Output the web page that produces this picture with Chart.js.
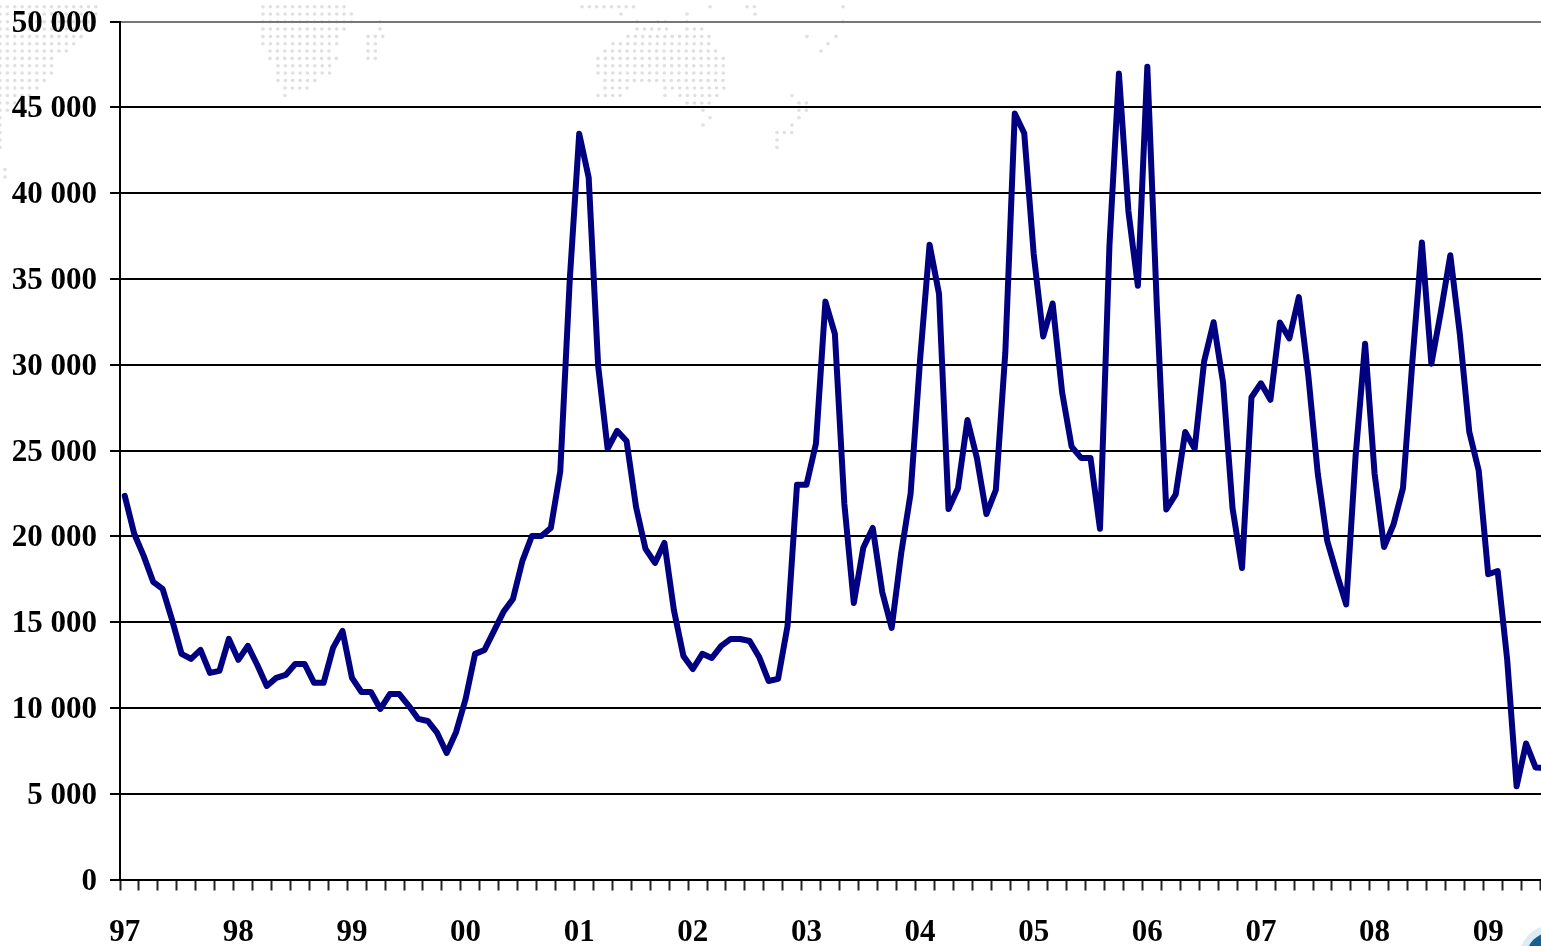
<!DOCTYPE html>
<html>
<head>
<meta charset="utf-8">
<title>Chart</title>
<script src="https://cdn.jsdelivr.net/npm/chart.js@4"></script>
<style>
    html, body { margin: 0; padding: 0; background: #ffffff; overflow: hidden; }
    #chartBox { width: 1541px; height: 946px; overflow: hidden; }
    /* pulled up 10px: the y scale keeps 32px free above the plot for its top label */
    canvas { display: block; margin-top: -10px; }
</style>
</head>
<body>
<div id="chartBox"><canvas id="priceChart" width="1569" height="956"></canvas></div>
<script>
// one label per year, the axis starts January 97
var yearLabels = ['97', '98', '99', '00', '01', '02', '03', '04', '05', '06', '07', '08', '09'];
var yTickValues = [0, 5000, 10000, 15000, 20000, 25000, 30000, 35000, 40000, 45000, 50000];

// monthly values, one line per year
var values97 = [22360, 20150, 18860, 17350, 16940, 15130, 13150, 12860, 13380, 12040, 12160, 14020];
var values98 = [12800, 13620, 12500, 11280, 11750, 11920, 12560, 12560, 11460, 11460, 13500, 14490];
var values99 = [11750, 10930, 10930, 9940, 10810, 10810, 10120, 9360, 9240, 8540, 7375, 8600];
var values00 = [10520, 13150, 13380, 14490, 15600, 16350, 18570, 20020, 20020, 20490, 23800, 34950];
var values01 = [43460, 40900, 29940, 25100, 26150, 25560, 21720, 19270, 18450, 19620, 15700, 13030];
var values02 = [12270, 13150, 12910, 13620, 14020, 14020, 13900, 12970, 11570, 11690, 14780, 23000];
var values03 = [23000, 25400, 33680, 31800, 21900, 16120, 19330, 20490, 16760, 14660, 19000, 22500];
var values04 = [30300, 37000, 34130, 21600, 22800, 26780, 24570, 21300, 22700, 30700, 44640, 43490];
var values05 = [36450, 31650, 33570, 28400, 25230, 24570, 24570, 20440, 36950, 46970, 38960, 34600];
var values06 = [47370, 33500, 21570, 22450, 26080, 25110, 30200, 32480, 28960, 21640, 18150, 28110];
var values07 = [28920, 27960, 32460, 31540, 33940, 29380, 23660, 19740, 17830, 16030, 24700, 31230];
var values08 = [23660, 19380, 20690, 22810, 30230, 37120, 30060, 33090, 36380, 31820, 26100, 23830];
var values09 = [17790, 17980, 12850, 5430, 7930, 6530, 6500];

var seriesValues = [].concat(values97, values98, values99, values00, values01, values02, values03,
    values04, values05, values06, values07, values08, values09);

// blank months so that only januaries carry a label
var categories = seriesValues.map(function(v, i) {
    return i % 12 === 0 ? yearLabels[i / 12] : '';
});

// faint dotted world map behind the plot: [row y, [from x, to x], ...]
var mapRows = [
    [6.7, [0, 100], [263, 350], [582, 636], [710, 717], [747, 755], [843, 843]],
    [14, [0, 100], [263, 355], [621, 621], [687, 687], [755, 755]],
    [21.7, [0, 95], [263, 355], [380, 380], [637, 637], [658, 667], [687, 687], [843, 843]],
    [29, [0, 90], [263, 350], [380, 385], [637, 667], [687, 703]],
    [36.4, [0, 88], [263, 340], [368, 385], [628, 710], [807, 813], [836, 836]],
    [43.7, [0, 80], [263, 340], [368, 378], [613, 710], [828, 828]],
    [51, [0, 72], [270, 333], [368, 378], [605, 718], [821, 821]],
    [58.4, [0, 58], [270, 340], [368, 378], [598, 726]],
    [65.8, [0, 58], [278, 333], [598, 726]],
    [73, [0, 58], [278, 333], [598, 726]],
    [80.5, [0, 50], [278, 318], [605, 726]],
    [88, [0, 42], [285, 310], [605, 628], [665, 726]],
    [95.5, [0, 35], [285, 285], [598, 621], [665, 665], [680, 718], [792, 792]],
    [103, [0, 25], [687, 710], [799, 807]],
    [110.3, [0, 15], [703, 703], [799, 807]],
    [117.7, [0, 7], [710, 710], [799, 799]],
    [125, [0, 7], [703, 710], [792, 792]],
    [132.5, [0, 7], [777, 792]],
    [140, [0, 7], [777, 784]],
    [147.3, [0, 7], [777, 777]],
    [169.5, [5, 5]],
    [177, [5, 5]]
];

var backdrop = {
    id: 'backdrop',
    beforeDraw: function(chart) {
        var ctx = chart.ctx;
        ctx.save();
        ctx.translate(0, 10);
        ctx.fillStyle = '#e0e0e0';
        mapRows.forEach(function(row) {
            row.slice(1).forEach(function(span) {
                for (var x = span[0]; x <= span[1]; x += 7.37) {
                    ctx.beginPath();
                    ctx.arc(x, row[0], 1.8, 0, Math.PI * 2);
                    ctx.fill();
                }
            });
        });
        // corner of the logo, bottom right
        ctx.fillStyle = '#dcecf4';
        ctx.beginPath();
        ctx.arc(1552, 958, 33, 0, Math.PI * 2);
        ctx.fill();
        ctx.fillStyle = '#15608e';
        ctx.beginPath();
        ctx.arc(1552, 958, 26, 0, Math.PI * 2);
        ctx.fill();
        ctx.restore();
    }
};

var labelFont = { family: '"Liberation Serif", "Times New Roman", serif', size: 31, weight: 'bold' };

new Chart(document.getElementById('priceChart').getContext('2d'), {
    type: 'line',
    plugins: [backdrop],
    data: {
        labels: categories,
        datasets: [{
            data: seriesValues,
            borderColor: '#000080',
            borderWidth: 6,
            borderJoinStyle: 'round',
            borderCapStyle: 'round',
            pointRadius: 0,
            tension: 0,
            clip: false
        }]
    },
    options: {
        responsive: false,
        animation: false,
        plugins: { legend: { display: false }, title: { display: false }, tooltip: { enabled: false } },
        scales: {
            x: {
                type: 'category',
                offset: true,
                afterFit: function(scale) { scale.height = 66.5; },
                border: { color: '#000000', width: 2 },
                grid: {
                    offset: true,
                    drawOnChartArea: false,
                    tickLength: 11,
                    tickWidth: 2,
                    tickColor: function(context) {
                        return context.index % 2 === 0 ? '#222222' : 'rgba(0,0,0,0)';
                    }
                },
                ticks: {
                    autoSkip: false,
                    maxRotation: 0,
                    minRotation: 0,
                    padding: 24,
                    color: '#000000',
                    font: labelFont
                }
            },
            y: {
                min: 0,
                max: 50000,
                afterFit: function(scale) { scale.width = 120; },
                afterBuildTicks: function(scale) {
                    scale.ticks = yTickValues.map(function(v) { return { value: v }; });
                },
                border: { color: '#000000', width: 2 },
                grid: {
                    color: function(context) {
                        return context.tick && context.tick.value === 50000 ? '#777777' : '#000000';
                    },
                    lineWidth: 2,
                    tickLength: 10,
                    tickColor: '#000000'
                },
                ticks: {
                    padding: 13,
                    labelOffset: 2,
                    color: '#000000',
                    font: labelFont,
                    callback: function(value) {
                        return String(value).replace(/\B(?=(\d{3})+$)/g, ' ');
                    }
                }
            }
        }
    }
});
</script>
</body>
</html>
